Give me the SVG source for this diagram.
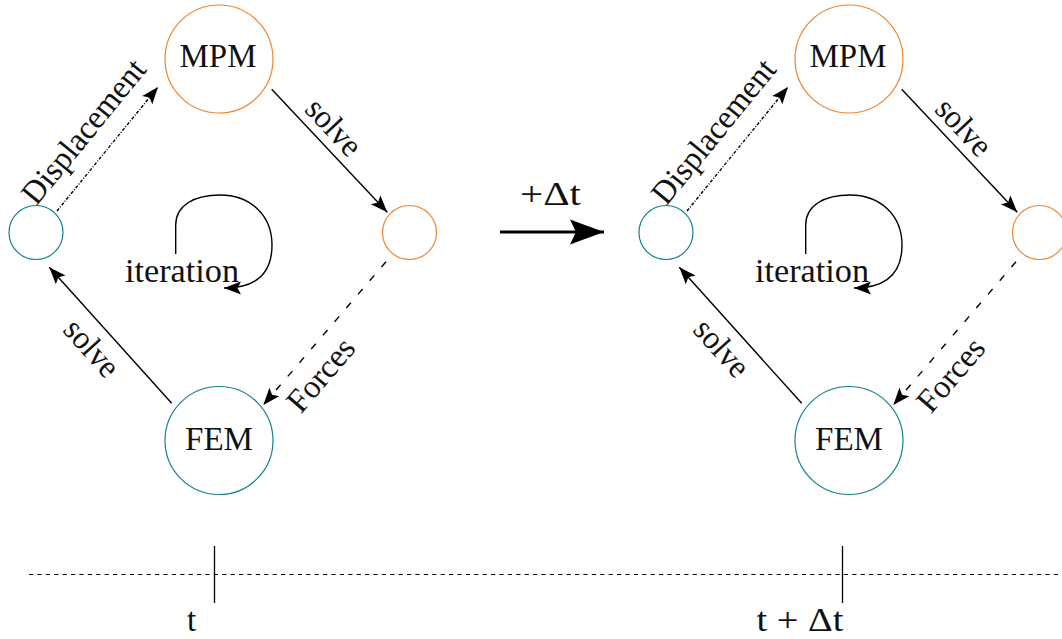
<svg xmlns="http://www.w3.org/2000/svg" width="1062" height="639" viewBox="0 0 1062 639">
<style>
.mpm { fill: none; stroke: #f0842c; stroke-width: 1.2; }
.fem { fill: none; stroke: #128190; stroke-width: 1.2; }
.lbl { font-family: "Liberation Serif", "DejaVu Serif", serif; font-size: 33px; fill: #111; }
.edge { fill: none; stroke: #000; stroke-width: 1.4; }
.solid { marker-end: url(#ah); }
.disp { stroke-dasharray: 3.2 1.6 1 1.6; marker-end: url(#ah); }
.dash { stroke-dasharray: 7 11; marker-end: url(#ah); }
</style>
<defs>
<marker id="ah" markerUnits="userSpaceOnUse" markerWidth="19" markerHeight="15" refX="17" refY="7" orient="auto" overflow="visible">
<path d="M0,0.5 L17,7 L0,13.5 L3.5,7 Z" fill="#000" stroke="none"/>
</marker>
<marker id="ahBig" markerUnits="userSpaceOnUse" markerWidth="36" markerHeight="27" refX="34" refY="12.5" orient="auto" overflow="visible">
<path d="M0,0 L34,12.5 L0,25 L6,12.5 Z" fill="#000" stroke="none"/>
</marker>
</defs>
<rect width="1062" height="639" fill="#fff"/>

<!-- left (time t) -->
<g id="step-t">
  <g id="mpm-t"><circle cx="219" cy="59" r="54" class="mpm"/><text class="lbl" x="218" y="67" text-anchor="middle" textLength="77" lengthAdjust="spacingAndGlyphs">MPM</text></g>
  <g id="mpm-solution-t"><circle cx="409.5" cy="232.5" r="27" class="mpm"/></g>
  <g id="fem-solution-t"><circle cx="36" cy="232.5" r="27" class="fem"/></g>
  <g id="fem-t"><circle cx="219" cy="440.5" r="54" class="fem"/><text class="lbl" x="219" y="450" text-anchor="middle" textLength="68" lengthAdjust="spacingAndGlyphs">FEM</text></g>
  <g id="connectors-t">
    <path class="edge disp" d="M57,211 L158,87"/>
    <path class="edge solid" d="M271.7,89.3 L387.3,212.3"/>
    <path class="edge dash" d="M386,261.7 L263.3,405"/>
    <path class="edge solid" d="M171.7,403.3 L49.3,267.3"/>
    <path class="edge solid" d="M175.7,254 L175.7,225 C175.7,205 195,195 220,195 C250,195 272,215 272,245 C272,272 258,288 224,288"/>
    <text class="lbl" text-anchor="middle" transform="translate(86.5,134) rotate(-50.8)" y="7" textLength="176" lengthAdjust="spacingAndGlyphs">Displacement</text>
    <text class="lbl" text-anchor="middle" transform="translate(334,127) rotate(46.8)" y="11" textLength="66" lengthAdjust="spacingAndGlyphs">solve</text>
    <text class="lbl" text-anchor="middle" transform="translate(321,375) rotate(-49.4)" y="10.5" textLength="86" lengthAdjust="spacingAndGlyphs">Forces</text>
    <text class="lbl" text-anchor="middle" transform="translate(92,348) rotate(48)" y="11" textLength="66" lengthAdjust="spacingAndGlyphs">solve</text>
    <text class="lbl" x="182" y="282" text-anchor="middle" textLength="114" lengthAdjust="spacingAndGlyphs">iteration</text>
  </g>
</g>

<!-- right (time t + Δt) -->
<g id="step-t-dt" transform="translate(630,0)">
  <g id="mpm-tdt"><circle cx="219" cy="59" r="54" class="mpm"/><text class="lbl" x="218" y="67" text-anchor="middle" textLength="77" lengthAdjust="spacingAndGlyphs">MPM</text></g>
  <g id="mpm-solution-tdt"><circle cx="409.5" cy="232.5" r="27" class="mpm"/></g>
  <g id="fem-solution-tdt"><circle cx="36" cy="232.5" r="27" class="fem"/></g>
  <g id="fem-tdt"><circle cx="219" cy="440.5" r="54" class="fem"/><text class="lbl" x="219" y="450" text-anchor="middle" textLength="68" lengthAdjust="spacingAndGlyphs">FEM</text></g>
  <g id="connectors-tdt">
    <path class="edge disp" d="M57,211 L158,87"/>
    <path class="edge solid" d="M271.7,89.3 L387.3,212.3"/>
    <path class="edge dash" d="M386,261.7 L263.3,405"/>
    <path class="edge solid" d="M171.7,403.3 L49.3,267.3"/>
    <path class="edge solid" d="M175.7,254 L175.7,225 C175.7,205 195,195 220,195 C250,195 272,215 272,245 C272,272 258,288 224,288"/>
    <text class="lbl" text-anchor="middle" transform="translate(86.5,134) rotate(-50.8)" y="7" textLength="176" lengthAdjust="spacingAndGlyphs">Displacement</text>
    <text class="lbl" text-anchor="middle" transform="translate(334,127) rotate(46.8)" y="11" textLength="66" lengthAdjust="spacingAndGlyphs">solve</text>
    <text class="lbl" text-anchor="middle" transform="translate(321,375) rotate(-49.4)" y="10.5" textLength="86" lengthAdjust="spacingAndGlyphs">Forces</text>
    <text class="lbl" text-anchor="middle" transform="translate(92,348) rotate(48)" y="11" textLength="66" lengthAdjust="spacingAndGlyphs">solve</text>
    <text class="lbl" x="182" y="282" text-anchor="middle" textLength="114" lengthAdjust="spacingAndGlyphs">iteration</text>
  </g>
</g>

<!-- time step arrow -->
<g id="time-step">
  <path d="M500,232 L604,232" fill="none" stroke="#000" stroke-width="2.8" marker-end="url(#ahBig)"/>
  <text class="lbl" x="550.5" y="205" text-anchor="middle" textLength="61" lengthAdjust="spacingAndGlyphs">+Δt</text>
</g>

<!-- timeline -->
<g id="timeline">
  <line x1="29" y1="574.5" x2="1060" y2="574.5" stroke="#000" stroke-width="1.2" stroke-dasharray="4.2 4.2"/>
  <line x1="214.5" y1="546" x2="214.5" y2="603" stroke="#000" stroke-width="1.3"/>
  <line x1="842.5" y1="546" x2="842.5" y2="603" stroke="#000" stroke-width="1.3"/>
  <text class="lbl" x="191.5" y="631" text-anchor="middle">t</text>
  <text class="lbl" x="800" y="631" text-anchor="middle" textLength="87" lengthAdjust="spacingAndGlyphs">t + Δt</text>
</g>
</svg>
